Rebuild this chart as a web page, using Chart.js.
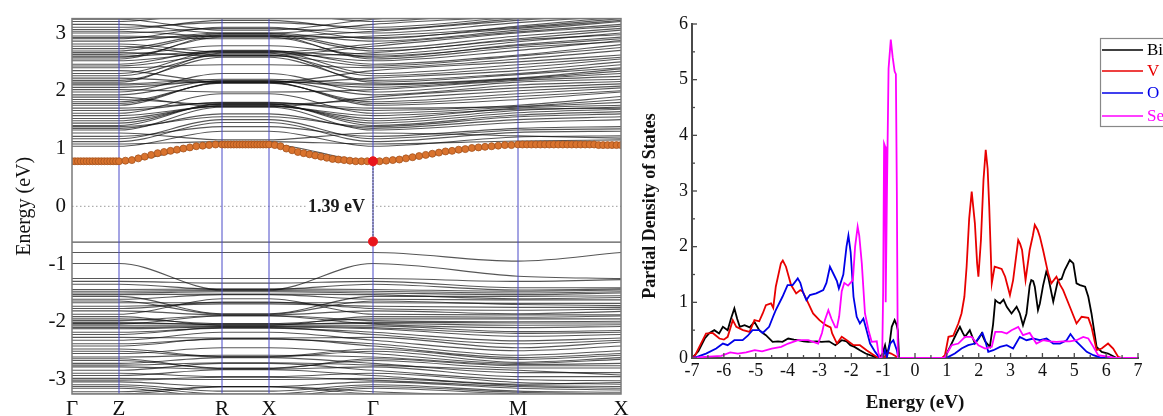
<!DOCTYPE html>
<html><head><meta charset="utf-8">
<script src="https://cdn.jsdelivr.net/npm/chart.js@4.4.1/dist/chart.umd.min.js"></script>
<style>
html,body{margin:0;padding:0;background:#fff;width:1163px;height:416px;overflow:hidden;}
#c1{position:absolute;left:0;top:0;width:640px;height:416px;}
#c2{position:absolute;left:630px;top:0;width:533px;height:416px;}
</style></head><body>
<canvas id="c1" width="640" height="416"></canvas>
<canvas id="c2" width="533" height="416"></canvas>
<script>
// ---------- Band structure data ----------
const kPathLabels = ['Γ','Z','R','X','Γ','M','X'];
const kPathPos = [0, 47, 150, 197, 301, 446, 549];
const bandYTicks = [-3,-2,-1,0,1,2,3];
// energies at [Γ, Z, R, X, Γ, M, X]
const cbBands = [
[0.78,0.78,1.07,1.07,0.78,1.07,1.06],
[1.04,1.04,1.30,1.30,1.04,1.20,1.22],
[1.08,1.08,1.12,1.12,1.08,1.13,1.15],
[1.12,1.12,1.45,1.45,1.12,1.28,1.30],
[1.17,1.17,1.50,1.50,1.17,1.32,1.34],
[1.21,1.21,1.38,1.38,1.21,1.35,1.38],
[1.27,1.27,1.15,1.15,1.27,1.22,1.18],
[1.32,1.32,1.72,1.72,1.32,1.45,1.50],
[1.35,1.35,1.60,1.60,1.35,1.50,1.55],
[1.38,1.38,1.55,1.55,1.38,1.55,1.60],
[1.40,1.40,1.78,1.78,1.40,1.58,1.64],
[1.44,1.44,1.77,1.77,1.44,1.62,1.68],
[1.48,1.48,1.75,1.75,1.48,1.66,1.72],
[1.52,1.52,1.74,1.74,1.52,1.70,1.75],
[1.57,1.57,1.73,1.73,1.57,1.68,1.70],
[1.61,1.61,1.95,1.95,1.61,1.72,1.80],
[1.66,1.66,1.80,1.80,1.66,1.75,1.90],
[1.70,1.70,1.79,1.79,1.70,1.73,1.85],
[1.75,1.75,2.15,2.15,1.75,1.85,1.98],
[1.78,1.78,2.14,2.14,1.78,1.90,2.00],
[1.81,1.81,2.13,2.13,1.81,1.95,2.05],
[1.85,1.85,1.76,1.76,1.85,2.00,2.08],
[1.89,1.89,1.72,1.72,1.89,2.05,2.12],
[1.93,1.93,2.18,2.18,1.93,2.10,2.16],
[1.98,1.98,2.30,2.30,1.98,2.15,2.20],
[2.02,2.02,1.98,1.98,2.02,2.18,2.25],
[2.06,2.06,2.17,2.17,2.06,2.20,2.30],
[2.10,2.10,2.16,2.16,2.10,2.21,2.34],
[2.12,2.12,2.20,2.20,2.12,2.22,2.38],
[2.15,2.15,2.65,2.65,2.15,2.28,2.40],
[2.18,2.18,2.58,2.58,2.18,2.30,2.45],
[2.22,2.22,2.14,2.14,2.22,2.35,2.50],
[2.26,2.26,2.62,2.62,2.26,2.40,2.55],
[2.30,2.30,2.69,2.69,2.30,2.45,2.58],
[2.35,2.35,2.15,2.15,2.35,2.50,2.62],
[2.40,2.40,2.45,2.45,2.40,2.55,2.70],
[2.43,2.43,2.61,2.61,2.43,2.60,2.75],
[2.46,2.46,2.70,2.70,2.46,2.62,2.80],
[2.52,2.52,2.66,2.66,2.52,2.70,2.87],
[2.55,2.55,2.96,2.96,2.55,2.75,2.85],
[2.58,2.58,2.93,2.93,2.58,2.80,2.93],
[2.60,2.60,2.68,2.68,2.60,2.78,2.90],
[2.63,2.63,2.78,2.78,2.63,2.85,3.00],
[2.66,2.66,2.60,2.60,2.66,2.88,2.97],
[2.69,2.69,2.97,2.97,2.69,2.90,3.05],
[2.73,2.73,2.99,2.99,2.73,2.95,3.08],
[2.77,2.77,2.62,2.62,2.77,3.00,3.12],
[2.81,2.81,2.67,2.67,2.81,3.02,3.15],
[2.86,2.86,3.00,3.00,2.86,3.05,3.20],
[2.90,2.90,3.10,3.10,2.90,3.12,3.28],
[2.92,2.92,2.95,2.95,2.92,3.08,3.22],
[2.95,2.95,2.90,2.90,2.95,3.10,3.25],
[3.00,3.00,3.08,3.08,3.00,3.18,3.30],
[3.03,3.03,2.94,2.94,3.03,3.22,3.35],
[3.06,3.06,3.22,3.22,3.06,3.25,3.38],
[3.10,3.10,3.18,3.18,3.10,3.28,3.40],
[3.15,3.15,3.00,3.00,3.15,3.30,3.45],
[3.20,3.20,3.35,3.35,3.20,3.40,3.50],
[3.24,3.24,3.05,3.05,3.24,3.35,3.48]
];
const vbBands = [
[-0.62,-0.62,-0.62,-0.62,-0.62,-0.62,-0.62],
[-0.80,-0.80,-0.80,-0.80,-0.80,-0.95,-0.80],
[-0.99,-0.99,-1.45,-1.45,-0.99,-1.21,-1.25],
[-1.25,-1.25,-1.25,-1.25,-1.25,-1.30,-1.27],
[-1.30,-1.30,-1.33,-1.33,-1.30,-1.41,-1.41],
[-1.35,-1.35,-1.44,-1.44,-1.35,-1.45,-1.43],
[-1.44,-1.44,-1.43,-1.43,-1.44,-1.47,-1.45],
[-1.47,-1.47,-1.46,-1.46,-1.47,-1.50,-1.48],
[-1.50,-1.50,-1.48,-1.48,-1.50,-1.53,-1.50],
[-1.53,-1.53,-1.52,-1.52,-1.53,-1.60,-1.58],
[-1.56,-1.56,-1.86,-1.86,-1.56,-1.56,-1.55],
[-1.61,-1.61,-1.53,-1.53,-1.61,-1.62,-1.62],
[-1.64,-1.64,-1.87,-1.87,-1.64,-1.70,-1.72],
[-1.67,-1.67,-1.67,-1.67,-1.67,-1.68,-1.68],
[-1.73,-1.73,-1.69,-1.69,-1.73,-1.75,-1.75],
[-1.77,-1.77,-1.66,-1.66,-1.77,-1.80,-1.78],
[-1.81,-1.81,-1.88,-1.88,-1.81,-1.86,-1.82],
[-1.87,-1.87,-1.60,-1.60,-1.87,-1.88,-1.88],
[-1.91,-1.91,-2.06,-2.06,-1.91,-1.92,-1.90],
[-1.95,-1.95,-2.03,-2.03,-1.95,-1.95,-1.95],
[-1.98,-1.98,-1.89,-1.89,-1.98,-2.00,-1.99],
[-2.01,-2.01,-2.05,-2.05,-2.01,-2.02,-2.02],
[-2.03,-2.03,-2.04,-2.04,-2.03,-2.06,-2.05],
[-2.04,-2.04,-1.90,-1.90,-2.04,-2.10,-2.08],
[-2.07,-2.07,-2.07,-2.07,-2.07,-2.17,-2.15],
[-2.10,-2.10,-2.08,-2.08,-2.10,-2.20,-2.18],
[-2.12,-2.12,-2.09,-2.09,-2.12,-2.25,-2.22],
[-2.18,-2.18,-2.11,-2.11,-2.18,-2.33,-2.28],
[-2.22,-2.22,-2.10,-2.10,-2.22,-2.38,-2.32],
[-2.27,-2.27,-2.28,-2.28,-2.27,-2.45,-2.35],
[-2.32,-2.32,-2.18,-2.18,-2.32,-2.50,-2.42],
[-2.38,-2.38,-2.30,-2.30,-2.38,-2.58,-2.50],
[-2.42,-2.42,-2.29,-2.29,-2.42,-2.62,-2.55],
[-2.47,-2.47,-2.60,-2.60,-2.47,-2.65,-2.58],
[-2.51,-2.51,-2.61,-2.61,-2.51,-2.70,-2.62],
[-2.55,-2.55,-2.45,-2.45,-2.55,-2.72,-2.65],
[-2.61,-2.61,-2.58,-2.58,-2.61,-2.74,-2.72],
[-2.64,-2.64,-2.81,-2.81,-2.64,-2.76,-2.76],
[-2.67,-2.67,-2.80,-2.80,-2.67,-2.80,-2.80],
[-2.72,-2.72,-2.62,-2.62,-2.72,-2.88,-2.88],
[-2.75,-2.75,-2.71,-2.71,-2.75,-2.84,-2.92],
[-2.78,-2.78,-2.82,-2.82,-2.78,-2.95,-2.95],
[-2.84,-2.84,-2.72,-2.72,-2.84,-3.00,-3.02],
[-2.89,-2.89,-2.95,-2.95,-2.89,-3.05,-3.08],
[-2.93,-2.93,-2.83,-2.83,-2.93,-3.08,-3.05],
[-2.98,-2.98,-3.00,-3.00,-2.98,-3.10,-3.12],
[-3.01,-3.01,-2.96,-2.96,-3.01,-3.12,-3.15],
[-3.04,-3.04,-3.12,-3.12,-3.04,-3.15,-3.18],
[-3.09,-3.09,-3.20,-3.20,-3.09,-3.20,-3.22],
[-3.12,-3.12,-3.25,-3.25,-3.12,-3.22,-3.25],
[-3.15,-3.15,-3.30,-3.30,-3.15,-3.25,-3.28],
[-3.21,-3.21,-3.12,-3.12,-3.21,-3.28,-3.30],
[-3.25,-3.25,-3.13,-3.13,-3.25,-3.30,-3.32],
[-3.30,-3.30,-3.35,-3.35,-3.30,-3.35,-3.35]
];
// conduction band minimum band: dot energies per path segment
const cbmDotsGZ = [0.78,0.78,0.78,0.78,0.78,0.78,0.78,0.78,0.78,0.78,0.78,0.78,0.78,0.78,0.78,0.78];
const cbmDotsZR = [0.78,0.79,0.80,0.83,0.86,0.89,0.92,0.94,0.96,0.98,1.00,1.02,1.04,1.05,1.06,1.07];
const cbmDotsRX = [1.07,1.07,1.07,1.07,1.07,1.07,1.07,1.07,1.07,1.07,1.07,1.07,1.07,1.07,1.07,1.07];
const cbmDotsXG = [1.07,1.06,1.04,1.00,0.97,0.94,0.92,0.90,0.88,0.86,0.84,0.82,0.81,0.80,0.79,0.78,0.78,0.78];
const cbmDotsGM = [0.78,0.78,0.79,0.80,0.81,0.83,0.85,0.87,0.89,0.91,0.93,0.95,0.96,0.98,0.99,1.01,1.02,1.03,1.04,1.05,1.06,1.06];
const cbmDotsMX = [1.07,1.07,1.07,1.07,1.07,1.07,1.07,1.07,1.07,1.07,1.07,1.07,1.07,1.07,1.07,1.07,1.07,1.07,1.06,1.06,1.06,1.06,1.06,1.06];
const gapCBM = 0.78, gapVBM = -0.61;
const gapText = '1.39 eV';

// ---------- PDOS data: [energy (eV), states] ----------
const pdosXTicks = [-7,-6,-5,-4,-3,-2,-1,0,1,2,3,4,5,6,7];
const pdosBi = [[-7,0],[-6.8,0.12],[-6.6,0.35],[-6.45,0.45],[-6.3,0.5],[-6.15,0.44],[-6.03,0.56],[-5.88,0.5],[-5.78,0.7],[-5.67,0.89],[-5.58,0.7],[-5.5,0.56],[-5.35,0.59],[-5.19,0.55],[-5.04,0.65],[-4.89,0.5],[-4.78,0.45],[-4.68,0.41],[-4.47,0.29],[-4.3,0.3],[-4.16,0.29],[-3.98,0.35],[-3.8,0.33],[-3.67,0.32],[-3.5,0.3],[-3.35,0.29],[-3.1,0.3],[-2.93,0.29],[-2.7,0.3],[-2.5,0.23],[-2.3,0.32],[-2.15,0.3],[-2.03,0.23],[-1.9,0.2],[-1.73,0.14],[-1.55,0.08],[-1.41,0.05],[-1.25,0.02],[-1.12,0],[-1.02,0.08],[-0.94,0.23],[-0.88,0.05],[-0.8,0.25],[-0.73,0.56],[-0.64,0.68],[-0.58,0.6],[-0.54,0.5],[-0.5,0],[0.9,0],[0.94,0.02],[1.1,0.2],[1.3,0.44],[1.41,0.56],[1.5,0.45],[1.57,0.38],[1.72,0.5],[1.8,0.38],[1.88,0.26],[2.0,0.35],[2.09,0.44],[2.2,0.3],[2.35,0.2],[2.45,0.6],[2.52,1.04],[2.6,1.0],[2.67,0.98],[2.78,1.05],[2.88,0.92],[3.03,0.8],[3.19,0.92],[3.29,0.8],[3.39,0.59],[3.5,0.8],[3.6,1.3],[3.65,1.4],[3.71,1.38],[3.76,1.28],[3.86,0.86],[3.92,0.98],[4.02,1.3],[4.12,1.55],[4.18,1.46],[4.34,1.01],[4.49,1.4],[4.6,1.42],[4.7,1.58],[4.86,1.76],[4.97,1.7],[5.07,1.34],[5.18,1.31],[5.34,1.28],[5.44,1.1],[5.54,0.8],[5.7,0.2],[5.86,0.11],[6.06,0.08],[6.33,0],[7,0]];
const pdosV = [[-7,0],[-6.9,0.05],[-6.77,0.2],[-6.56,0.44],[-6.35,0.45],[-6.14,0.35],[-6.0,0.33],[-5.88,0.38],[-5.72,0.68],[-5.61,0.56],[-5.4,0.5],[-5.19,0.47],[-5.04,0.68],[-4.89,0.66],[-4.78,0.8],[-4.68,0.95],[-4.52,0.98],[-4.45,0.9],[-4.37,1.28],[-4.21,1.7],[-4.15,1.75],[-4.05,1.64],[-3.89,1.31],[-3.73,1.16],[-3.6,1.22],[-3.52,1.19],[-3.37,1.01],[-3.2,0.8],[-3.0,0.68],[-2.8,0.59],[-2.65,0.55],[-2.6,0.44],[-2.45,0.26],[-2.3,0.38],[-2.14,0.32],[-1.93,0.23],[-1.73,0.23],[-1.52,0.14],[-1.31,0.06],[-1.15,0],[-0.95,0.02],[-0.85,0.1],[-0.75,0.08],[-0.6,0.03],[-0.5,0],[0.85,0],[0.94,0.05],[1.05,0.38],[1.2,0.4],[1.36,0.62],[1.46,0.8],[1.55,1.1],[1.62,1.64],[1.7,2.5],[1.78,2.99],[1.88,2.42],[1.95,1.7],[1.99,1.46],[2.07,2.12],[2.15,3.2],[2.22,3.74],[2.28,3.4],[2.33,2.72],[2.41,1.34],[2.5,1.64],[2.62,1.62],[2.72,1.6],[2.83,1.46],[2.98,1.13],[3.08,1.4],[3.24,2.12],[3.3,2.05],[3.36,1.94],[3.47,1.4],[3.6,1.94],[3.7,2.2],[3.76,2.39],[3.85,2.3],[3.92,2.18],[4.02,1.94],[4.18,1.52],[4.28,1.34],[4.44,1.46],[4.56,1.31],[4.65,1.22],[4.86,0.92],[5.07,0.62],[5.23,0.74],[5.44,0.72],[5.54,0.56],[5.7,0.14],[5.86,0.17],[6.06,0.26],[6.22,0.17],[6.38,0.02],[6.5,0],[7,0]];
const pdosO = [[-7,0],[-6.8,0.03],[-6.56,0.08],[-6.24,0.17],[-6.03,0.26],[-5.88,0.23],[-5.67,0.32],[-5.41,0.32],[-5.25,0.4],[-5.1,0.5],[-4.89,0.5],[-4.78,0.45],[-4.58,0.56],[-4.45,0.75],[-4.37,0.86],[-4.16,1.1],[-4.0,1.31],[-3.84,1.31],[-3.68,1.43],[-3.6,1.35],[-3.52,1.19],[-3.41,1.04],[-3.3,1.13],[-3.1,1.16],[-2.88,1.22],[-2.78,1.35],[-2.67,1.64],[-2.55,1.5],[-2.45,1.38],[-2.39,1.25],[-2.25,1.5],[-2.15,2.0],[-2.09,2.2],[-2.02,1.9],[-1.93,1.1],[-1.83,0.74],[-1.73,0.62],[-1.62,0.71],[-1.52,0.5],[-1.41,0.26],[-1.25,0.11],[-1.11,0],[-1.0,0.02],[-0.94,0.14],[-0.88,0.02],[-0.78,0.26],[-0.68,0.32],[-0.57,0.14],[-0.52,0],[0.9,0],[1.05,0.02],[1.25,0.08],[1.46,0.17],[1.67,0.23],[1.88,0.26],[2.02,0.38],[2.12,0.45],[2.2,0.32],[2.3,0.11],[2.46,0.14],[2.67,0.2],[2.88,0.23],[3.08,0.17],[3.29,0.38],[3.5,0.32],[3.71,0.35],[3.92,0.32],[4.13,0.35],[4.34,0.26],[4.55,0.26],[4.76,0.32],[4.88,0.43],[5.02,0.32],[5.18,0.23],[5.39,0.11],[5.6,0.05],[5.81,0.01],[6.0,0],[7,0]];
const pdosSe = [[-7,0],[-6.6,0.02],[-6.08,0.04],[-5.8,0.1],[-5.56,0.08],[-5.3,0.1],[-5.03,0.14],[-4.8,0.12],[-4.5,0.17],[-4.2,0.2],[-3.98,0.26],[-3.67,0.32],[-3.35,0.32],[-3.04,0.26],[-2.92,0.45],[-2.83,0.68],[-2.72,0.86],[-2.62,0.7],[-2.5,0.55],[-2.45,0.55],[-2.38,0.75],[-2.3,1.2],[-2.22,1.35],[-2.1,1.3],[-1.95,1.4],[-1.88,2.0],[-1.8,2.36],[-1.75,2.2],[-1.67,1.7],[-1.57,0.8],[-1.46,0.5],[-1.36,0.29],[-1.2,0.3],[-1.15,0.1],[-1.1,0],[-1.03,0],[-1.0,1.2],[-0.97,3.85],[-0.94,3.8],[-0.92,1.0],[-0.88,3.0],[-0.83,5.2],[-0.76,5.72],[-0.7,5.4],[-0.64,5.15],[-0.6,5.1],[-0.57,3.0],[-0.54,0],[0.9,0],[0.94,0.02],[1.15,0.23],[1.36,0.26],[1.57,0.38],[1.78,0.38],[1.99,0.23],[2.2,0.17],[2.41,0.2],[2.52,0.47],[2.72,0.47],[2.88,0.44],[3.03,0.5],[3.24,0.56],[3.39,0.41],[3.6,0.45],[3.81,0.26],[4.02,0.32],[4.23,0.3],[4.44,0.29],[4.65,0.3],[4.86,0.3],[5.07,0.32],[5.28,0.38],[5.44,0.35],[5.6,0.2],[5.75,0.05],[6.0,0.03],[6.3,0],[7,0]];
const pdosLabels = ['Bi','V','O','Se'];
const pdosColors = ['#000000','#e80000','#0000e8','#ff00ff'];

// ---------- Band structure chart ----------
const SERIF = '"Liberation Serif", "Times New Roman", serif';
function bandDs(vals){
  return {data: vals.map((e,i)=>({x:kPathPos[i], y:e})), borderColor:'rgba(15,15,15,0.7)', borderWidth:1.1,
    pointRadius:0, cubicInterpolationMode:'monotone', order:10};
}
const dotSegs = [cbmDotsGZ,cbmDotsZR,cbmDotsRX,cbmDotsXG,cbmDotsGM,cbmDotsMX];
const dotPts = [];
dotSegs.forEach((seg,s)=>{
  const a=kPathPos[s], b=kPathPos[s+1];
  const n = (s===dotSegs.length-1) ? seg.length-1 : seg.length;
  seg.forEach((e,i)=>dotPts.push({x:a+(b-a)*i/n, y:e}));
});
const yMin=-3.25, yMax=3.25;
const bandSets = [];
bandSets.push({data:[{x:kPathPos[4],y:gapCBM},{x:kPathPos[4],y:gapVBM}], showLine:false, pointRadius:4.5,
  pointBackgroundColor:'#e8141c', pointBorderColor:'#e8141c', order:0});
bandSets.push({data:dotPts, showLine:false, pointRadius:3.5, pointBackgroundColor:'#d9732e',
  pointBorderColor:'#a4521c', pointBorderWidth:0.8, order:1});
bandSets.push({data:[{x:kPathPos[4],y:gapVBM},{x:kPathPos[4],y:gapCBM}], borderColor:'#222', borderWidth:1.2,
  borderDash:[1,2], pointRadius:0, order:2});
kPathPos.slice(1,-1).forEach(k=>bandSets.push({data:[{x:k,y:yMin},{x:k,y:yMax}], borderColor:'#4a4ac8',
  borderWidth:1, pointRadius:0, order:3}));
bandSets.push({data:[{x:kPathPos[0],y:0},{x:kPathPos[6],y:0}], borderColor:'#9a9a9a', borderWidth:1,
  borderDash:[1.5,2.5], pointRadius:0, order:4});
cbBands.forEach(b=>bandSets.push(bandDs(b)));
vbBands.forEach(b=>bandSets.push(bandDs(b)));

const bandDecor = {id:'bandDecor', afterDatasetsDraw(chart){
  const {ctx, chartArea:a, scales:{x,y}} = chart;
  ctx.save();
  ctx.font = 'bold 18px '+SERIF;
  const gx = x.getPixelForValue(kPathPos[4]), gy = y.getPixelForValue(0);
  const w = ctx.measureText(gapText).width;
  ctx.fillStyle = '#fff';
  ctx.fillRect(gx-8-w-2, gy-9, w+8, 18);
  ctx.fillStyle = '#1a1a1a'; ctx.textAlign='right'; ctx.textBaseline='middle';
  ctx.fillText(gapText, gx-8, gy+1);
  ctx.strokeStyle='#7a7a7a'; ctx.lineWidth=1.5;
  ctx.strokeRect(a.left, a.top, a.right-a.left, a.bottom-a.top);
  ctx.restore();
}};

new Chart(document.getElementById('c1'), {
  type:'line',
  data:{datasets:bandSets},
  options:{responsive:false, animation:false, events:[],
    layout:{padding:{top:14,right:19,left:0,bottom:0}},
    plugins:{legend:{display:false}, tooltip:{enabled:false}},
    scales:{
      x:{type:'linear', min:kPathPos[0], max:kPathPos[6],
        afterBuildTicks:s=>{s.ticks=kPathPos.map(v=>({value:v}));},
        ticks:{callback:(v,i)=>kPathLabels[i], font:{family:SERIF,size:21}, color:'#111', padding:3, maxRotation:0, autoSkip:false},
        grid:{display:false, drawTicks:false}, border:{display:false},
        afterFit:s=>{s.height=22;}},
      y:{type:'linear', min:yMin, max:yMax,
        afterBuildTicks:s=>{s.ticks=bandYTicks.map(v=>({value:v}));},
        ticks:{font:{family:SERIF,size:21}, color:'#111', padding:6},
        grid:{display:false, drawTicks:false}, border:{display:false},
        title:{display:true, text:'Energy (eV)', font:{family:SERIF,size:20}, color:'#111', padding:{top:13}},
        afterFit:s=>{s.width=72;}}
    }},
  plugins:[bandDecor]
});

// ---------- PDOS chart ----------
const pdosData = [pdosBi,pdosV,pdosO,pdosSe];
const pdosSets = pdosData.map((arr,i)=>({label:pdosLabels[i], data:arr.map(p=>({x:p[0],y:p[1]})),
  borderColor:pdosColors[i], borderWidth:1.8, pointRadius:0, tension:0, order:3-i}));

const pdosDecor = {id:'pdosDecor', afterDraw(chart){
  const {ctx, chartArea:a, scales:{x,y}} = chart;
  ctx.save();
  ctx.strokeStyle='#4a4a4a'; ctx.lineWidth=1.3;
  for(let i=0;i<pdosXTicks.length;i++){
    const v=pdosXTicks[i], px=x.getPixelForValue(v);
    ctx.beginPath(); ctx.moveTo(px,a.bottom); ctx.lineTo(px,a.bottom-5); ctx.stroke();
    if(i<pdosXTicks.length-1){const pm=x.getPixelForValue(v+0.5); ctx.beginPath(); ctx.moveTo(pm,a.bottom); ctx.lineTo(pm,a.bottom-3); ctx.stroke();}
  }
  for(let v=0; v<=6; v++){
    const py=y.getPixelForValue(v);
    ctx.beginPath(); ctx.moveTo(a.left,py); ctx.lineTo(a.left+5,py); ctx.stroke();
    if(v<6){const pm=y.getPixelForValue(v+0.5); ctx.beginPath(); ctx.moveTo(a.left,pm); ctx.lineTo(a.left+3,pm); ctx.stroke();}
  }
  // axis titles
  ctx.fillStyle='#111'; ctx.textAlign='center'; ctx.textBaseline='middle';
  ctx.font='bold 19px '+SERIF;
  ctx.fillText('Energy (eV)', x.getPixelForValue(0), 403);
  ctx.save(); ctx.translate(20, 206); ctx.rotate(-Math.PI/2);
  ctx.font='bold 18px '+SERIF; ctx.fillText('Partial Density of States', 0, 0); ctx.restore();
  // legend
  const lx=470, ly=38;
  ctx.strokeStyle='#888'; ctx.lineWidth=1.2;
  ctx.strokeRect(lx+0.5, ly+0.5, 90, 88);
  ctx.font='17px '+SERIF; ctx.textAlign='left';
  const rows=[50,71,93,116];
  chart.data.datasets.forEach((d,i)=>{
    ctx.strokeStyle=d.borderColor; ctx.lineWidth=1.6;
    ctx.beginPath(); ctx.moveTo(lx+2, rows[i]); ctx.lineTo(lx+43, rows[i]); ctx.stroke();
    ctx.fillStyle=d.borderColor; ctx.fillText(d.label, lx+47, rows[i]+1);
  });
  ctx.restore();
}};

new Chart(document.getElementById('c2'), {
  type:'line',
  data:{datasets:pdosSets},
  options:{responsive:false, animation:false, events:[],
    layout:{padding:{top:24,right:25,left:0,bottom:0}},
    plugins:{legend:{display:false}, tooltip:{enabled:false}},
    scales:{
      x:{type:'linear', min:-7, max:7,
        afterBuildTicks:s=>{s.ticks=pdosXTicks.map(v=>({value:v}));},
        ticks:{font:{family:SERIF,size:18}, color:'#111', padding:2, maxRotation:0, autoSkip:false},
        grid:{display:false, drawTicks:false}, border:{display:true, color:'#4a4a4a', width:2},
        afterFit:s=>{s.height=58;}},
      y:{type:'linear', min:0, max:6,
        ticks:{stepSize:1, font:{family:SERIF,size:18}, color:'#111', padding:4},
        grid:{display:false, drawTicks:false}, border:{display:true, color:'#4a4a4a', width:2},
        afterFit:s=>{s.width=62;}}
    }},
  plugins:[pdosDecor]
});
</script></body></html>
